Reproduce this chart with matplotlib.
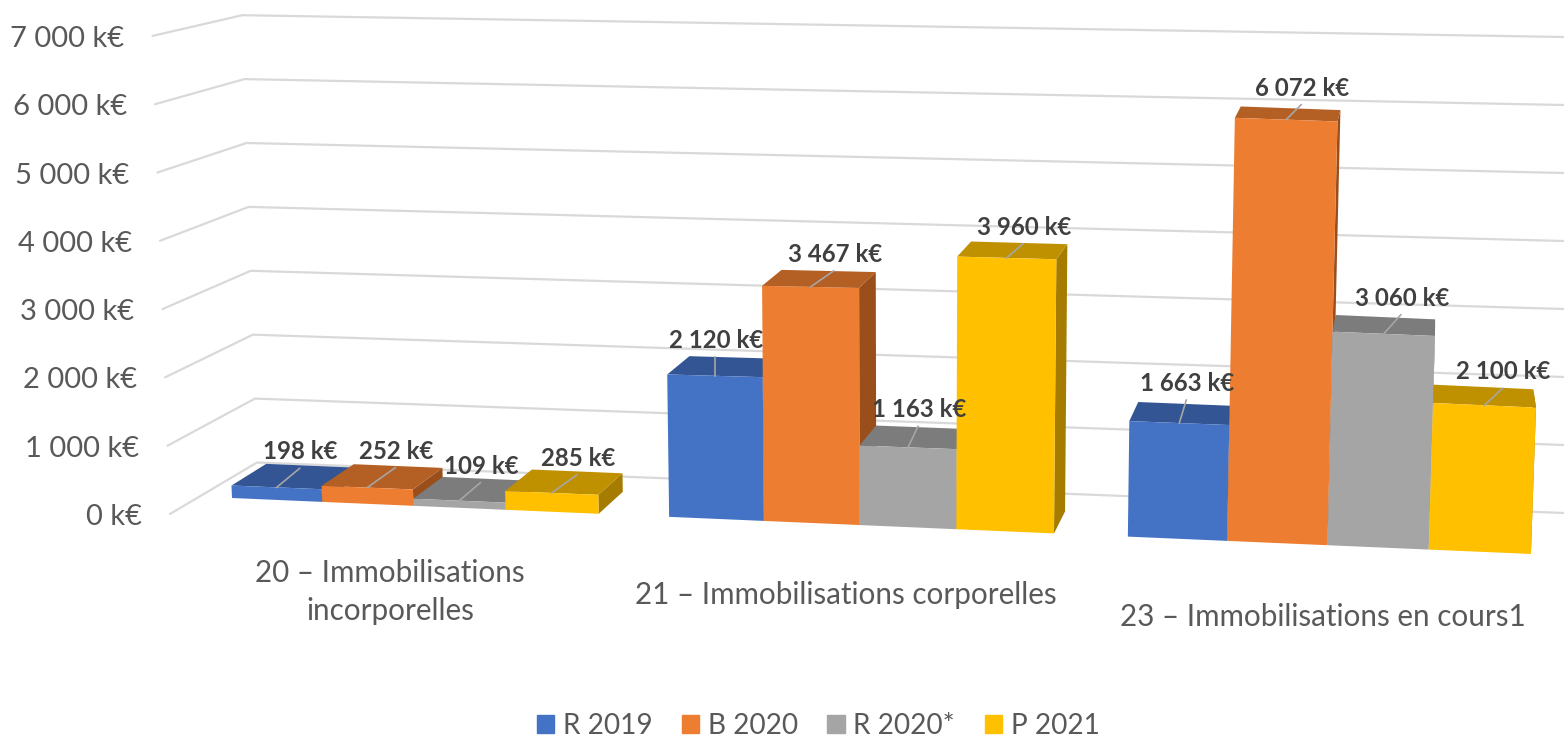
import matplotlib
matplotlib.use("Agg")
import matplotlib.pyplot as plt
from matplotlib.patches import Patch

categories = ["20 – Immobilisations\nincorporelles",
              "21 – Immobilisations corporelles",
              "23 – Immobilisations en cours1"]
series_names = ["R 2019", "B 2020", "R 2020*", "P 2021"]
r_2019 = [198, 2120, 1663]
b_2020 = [252, 3467, 6072]
r_2020 = [109, 1163, 3060]
p_2021 = [285, 3960, 2100]
series = [r_2019, b_2020, r_2020, p_2021]
ticks = [0, 1000, 2000, 3000, 4000, 5000, 6000, 7000]

front_cols = ["#4472C4", "#ED7D31", "#A5A5A5", "#FFC000"]
top_cols = ["#335593", "#B45F24", "#7C7C7C", "#BF9000"]
side_cols = ["#2C4A80", "#9A4E1C", "#6B6B6B", "#A67C00"]
text_col = "#595959"
label_col = "#404040"

# leader line from the top of each bar up to its label, pixels
leader_dx = [[23, 28, 21, 25], [0, 23, 10, 16], [7, 15, 17, 18]]
leader_dy = [[-19, -20, -18, -18], [-19, -16, -21, -14], [-23, -15, -19, -17]]
cat_x = [390, 846, 1323]
cat_y = [592, 595, 617]


def fmt(v):
    return f"{v:,}".replace(",", " ") + " k€"


# the picture is a 3D column chart, so work out a small perspective by hand
def project(u, v):
    x0 = 232 + 89.75 * u + 0.479 * u ** 2
    y0 = 498 + (x0 - 232) * 0.0431
    t = (x0 - 232) / 1000
    k = 63 + 11.74 * t - 5.06 * t ** 2
    return x0 + (x0 - 900) * 0.00386 * v / 1000, y0 - k * v / 1000


def to_back(p, v):
    return p[0] + (1440 - p[0]) * 0.0287, p[1] - (22 - 1.75 * v / 1000)


plt.rcParams["font.family"] = ["Lato", "DejaVu Sans"]
fig = plt.figure(figsize=(15.64, 7.39), dpi=100)
ax = fig.add_axes([0, 0, 1, 1])
ax.set_xlim(0, 1564)
ax.set_ylim(739, 0)
ax.axis("off")

# walls
for t in ticks:
    f = t / 1000
    ax.plot([170 - 2.5 * f, 257 - 2.1 * f, 1564],
            [514 - 68.3 * f, 462.5 - 63.9 * f, 513 - 68 * f],
            color="#D9D9D9", lw=1.6, zorder=1, solid_capstyle="round")
    ax.text(142 - 2.5 * f, 517 - 68.3 * f, fmt(t), ha="right", va="center",
            fontsize=21, color=text_col)

for i in range(len(categories)):
    for j in range(len(series)):
        v = series[j][i]
        u = i * 4.75 + j
        bl, br = project(u, 0), project(u + 1, 0)
        tl, tr = project(u, v), project(u + 1, v)
        tl_b, tr_b = to_back(tl, v), to_back(tr, v)
        br_b = to_back(br, 0)
        z = 2 + i * 10 + j
        ax.fill(*zip(br, tr, tr_b, br_b), color=side_cols[j], lw=0, zorder=z)
        ax.fill(*zip(tl, tr, tr_b, tl_b), color=top_cols[j], lw=0, zorder=z)
        ax.fill(*zip(bl, br, tr, tl), color=front_cols[j], lw=0, zorder=z)

        cx, cy = (tl[0] + tr[0]) / 2, (tl[1] + tr[1]) / 2
        ex, ey = cx + leader_dx[i][j], cy + leader_dy[i][j]
        ax.plot([cx, ex], [cy, ey], color="#A6A6A6", lw=1.2, zorder=z)
        ax.text(ex + 1, ey - 16.5, fmt(v), ha="center", va="center", fontsize=17.3,
                fontweight="bold", color=label_col, zorder=50)

for i, c in enumerate(categories):
    ax.text(cat_x[i], cat_y[i], c, ha="center", va="center", fontsize=21.3,
            color=text_col, linespacing=1.4)

handles = [Patch(color=c, label=n) for c, n in zip(front_cols, series_names)]
leg = fig.legend(handles=handles, ncol=4, loc="center", bbox_to_anchor=(818 / 1564, 1 - 726 / 739),
                 frameon=False, fontsize=20.2, handlelength=0.63, handleheight=0.63,
                 handletextpad=0.3, columnspacing=1.05, labelcolor=text_col,
                 borderpad=0, borderaxespad=0)

fig.savefig("out.png", dpi=100)
